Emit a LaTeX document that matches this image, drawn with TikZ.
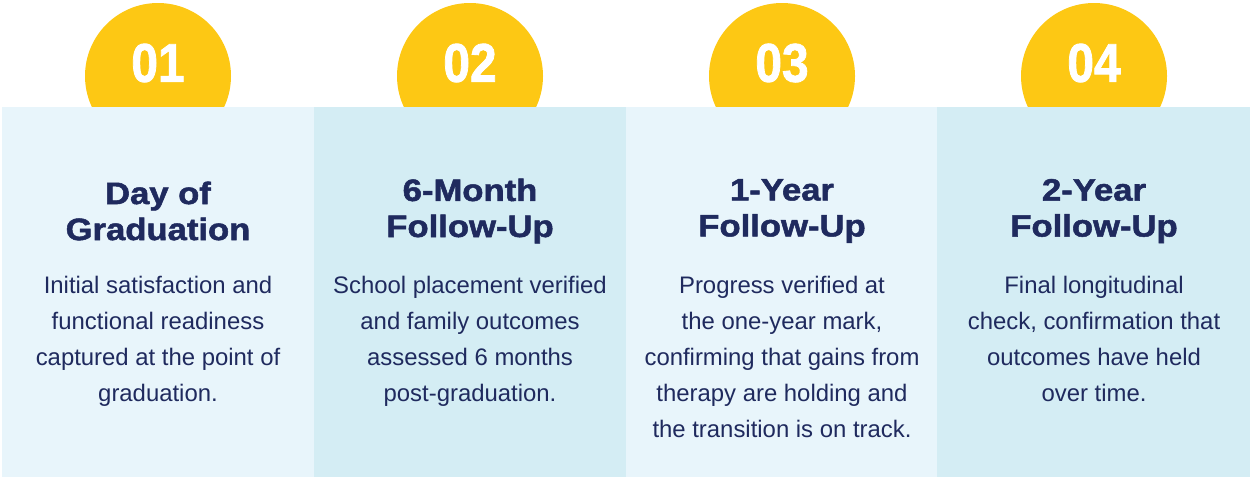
\documentclass[tikz,border=0pt]{standalone}
\usepackage{fontspec}
\setmainfont{Liberation Sans}
\newfontfamily\heavysans{Liberation Sans Bold}[FakeBold=1.6]
\usepackage{xcolor}
\definecolor{sunyellow}{HTML}{FDC814}
\definecolor{paneLight}{HTML}{E8F5FB}
\definecolor{paneDark}{HTML}{D4EDF4}
\definecolor{inkNavy}{HTML}{1F2A5E}
\tikzset{
  badge/.style={fill=sunyellow,draw=none},
  badgenum/.style={text=white,font=\fontsize{31}{31}\selectfont\heavysans,xscale=0.88,inner sep=0pt},
  panelL/.style={fill=paneLight,draw=none},
  panelD/.style={fill=paneDark,draw=none},
  stagetitle/.style={text=inkNavy,align=center,font=\fontsize{17.6}{20.5}\selectfont\heavysans,xscale=1.12,inner sep=0pt},
  stagebody/.style={text=inkNavy,align=center,font=\fontsize{13.6}{20.5}\selectfont,inner sep=0pt}
}

\begin{document}
\begin{tikzpicture}[x=0.02cm,y=-0.02cm]
  \useasboundingbox (0,0) rectangle (1250,477);
  % badges behind the panels
  \fill[badge] (158,76) circle (73);
  \fill[badge] (470,76) circle (73);
  \fill[badge] (782,76) circle (73);
  \fill[badge] (1094,76) circle (73);
  \node[badgenum] (n1) at (158,63) {01};
  \node[badgenum] (n2) at (470,63) {02};
  \node[badgenum] (n3) at (782,63) {03};
  \node[badgenum] (n4) at (1094,63) {04};
  % panels
  \fill[panelL] (2,107) rectangle (314,477);
  \fill[panelD] (314,107) rectangle (626,477);
  \fill[panelL] (626,107) rectangle (937,477);
  \fill[panelD] (937,107) rectangle (1250,477);
  % titles
  \node[stagetitle] (t1) at (158,211) {Day of\\Graduation};
  \node[stagetitle] (t2) at (470,211) {6-Month\\Follow-Up};
  \node[stagetitle] (t3) at (782,211) {1-Year\\Follow-Up};
  \node[stagetitle] (t4) at (1094,211) {2-Year\\Follow-Up};
  % descriptions
  \node[stagebody] (b1) at (158,341) {Initial satisfaction and\\functional readiness\\captured at the point of\\graduation.};
  \node[stagebody] (b2) at (470,341) {School placement verified\\and family outcomes\\assessed 6 months\\post-graduation.};
  \node[stagebody] (b3) at (782,357) {Progress verified at\\the one-year mark,\\confirming that gains from\\therapy are holding and\\the transition is on track.};
  \node[stagebody] (b4) at (1094,339) {Final longitudinal\\check, confirmation that\\outcomes have held\\over time.};
\end{tikzpicture}
\end{document}
